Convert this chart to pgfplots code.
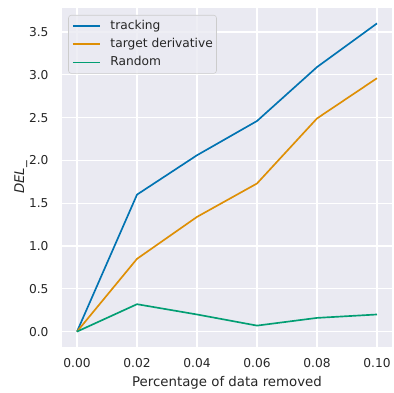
\documentclass[border=0pt]{standalone}
\usepackage{fontspec}
\setmainfont{DejaVu Sans}
\usepackage{pgfplots}
\pgfplotsset{compat=1.18}
\definecolor{sbbg}{HTML}{EAEAF2}
\definecolor{cbblue}{HTML}{0173B2}
\definecolor{cborange}{HTML}{DE8F05}
\definecolor{cbgreen}{HTML}{029E73}
\definecolor{txt}{HTML}{262626}
\begin{document}
\begin{tikzpicture}
\useasboundingbox (-44.64pt,-32.4pt) rectangle (239.04pt,249.84pt);
\begin{axis}[
  at={(0,0)}, anchor=south west,
  width=237.6pt, height=244.08pt, scale only axis,
  xmin=-0.005, xmax=0.105, ymin=-0.18, ymax=3.78,
  axis background/.style={fill=sbbg},
  axis line style={draw=none},
  grid=major, major grid style={white, line width=0.8pt},
  tick style={draw=none},
  xtick={0,0.02,0.04,0.06,0.08,0.1},
  ytick={0,0.5,1,1.5,2,2.5,3,3.5},
  xticklabel style={/pgf/number format/fixed,/pgf/number format/fixed zerofill,/pgf/number format/precision=2},
  yticklabel style={/pgf/number format/fixed,/pgf/number format/fixed zerofill,/pgf/number format/precision=1},
  /pgf/number format/assume math mode=true,
  scaled x ticks=false,
  ticklabel style={font=\fontsize{8.8}{10.5}\selectfont, text=txt},
  xtick pos=bottom, ytick pos=left,
  every x tick label/.append style={yshift=-5pt},
  every y tick label/.append style={xshift=-6.2pt},
  xlabel={Percentage of data removed},
  ylabel={\textit{DEL\_}},
  label style={font=\fontsize{9.6}{11.5}\selectfont, text=txt},
  xlabel style={at={(axis description cs:0.5,-0.117)}, anchor=base},
  ylabel style={at={(axis description cs:-0.115,0.5)}, anchor=base},
  legend style={at={(rel axis cs:0,1)}, anchor=north west, xshift=4.5pt, yshift=-5pt,
    fill=sbbg, fill opacity=0.8, text opacity=1, draw=black!20, rounded corners=2pt,
    font=\fontsize{8.8}{10.5}\selectfont, text=txt, row sep=4.7pt, column sep=7.2pt,
    inner xsep=2.6pt, inner ysep=3.5pt,
    nodes={inner sep=0pt, text height=6.5pt, text depth=2pt}},
  legend cell align=left,
  legend image code/.code={\draw[#1] (0pt,0pt) -- (19.2pt,0pt);},
]
\addplot[cbblue, line width=1.2pt] coordinates {(0,0) (0.02,1.60) (0.04,2.06) (0.06,2.46) (0.08,3.09) (0.10,3.60)};
\addlegendentry{tracking}
\addplot[cborange, line width=1.2pt] coordinates {(0,0) (0.02,0.85) (0.04,1.34) (0.06,1.73) (0.08,2.49) (0.10,2.96)};
\addlegendentry{target derivative}
\addplot[cbgreen, line width=1.2pt] coordinates {(0,0) (0.02,0.32) (0.04,0.20) (0.06,0.07) (0.08,0.16) (0.10,0.20)};
\addlegendentry{Random}
\end{axis}
\end{tikzpicture}
\end{document}
